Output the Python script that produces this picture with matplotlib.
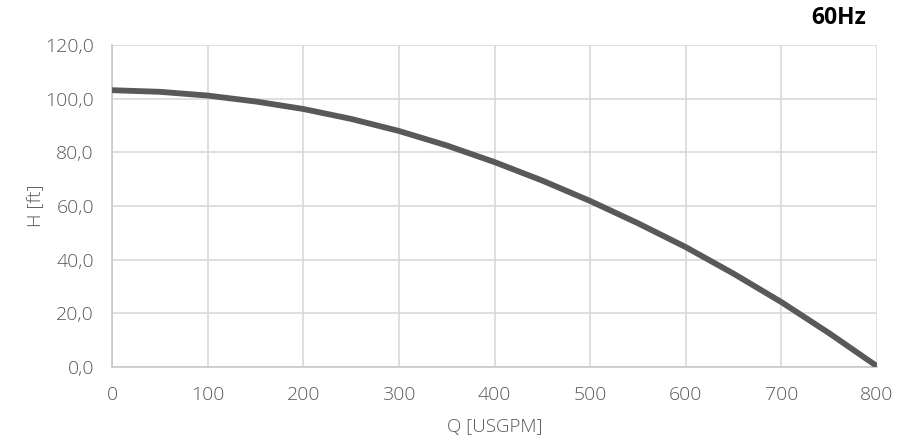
import numpy as np
import matplotlib
matplotlib.use("Agg")
import matplotlib.pyplot as plt
from matplotlib.ticker import FuncFormatter

# pump curve
q_usgpm = [0, 50, 100, 150, 200, 250, 300, 350, 400, 450, 500, 550, 600, 650, 700, 750, 800]
h_ft = [103.2, 102.6, 101.2, 99.0, 96.2, 92.5, 88.0, 82.6, 76.4, 69.5, 61.9, 53.6, 44.7, 34.8, 24.2, 12.6, 0.3]

x_ticks = [0, 100, 200, 300, 400, 500, 600, 700, 800]
y_ticks = [0, 20, 40, 60, 80, 100, 120]

text_col = "#595959"
grid_col = "#d9d9d9"

plt.rcParams['font.family'] = ['Open Sans', 'DejaVu Sans']

fig = plt.figure(figsize=(9.16, 4.47), dpi=100)
ax = fig.add_axes([0.1223, 0.179, 0.8351, 0.720])

ax.plot(q_usgpm, h_ft, color="#595959", lw=4.2, solid_capstyle="butt", zorder=3)

ax.set_xlim(0, 800)
ax.set_ylim(0, 120)
ax.set_xticks(x_ticks)
ax.set_yticks(y_ticks)
ax.yaxis.set_major_formatter(FuncFormatter(lambda v, p: f"{v:.1f}".replace(".", ",")))
ax.grid(True, color=grid_col, lw=1.2)
ax.set_axisbelow(True)
ax.tick_params(length=0, labelsize=14, labelcolor=text_col)
ax.tick_params(axis="x", pad=14)
ax.tick_params(axis="y", pad=13)
for lab in ax.get_xticklabels() + ax.get_yticklabels():
    lab.set_fontweight("light")

for s in ["top", "right"]:
    ax.spines[s].set_visible(False)
for s in ["left", "bottom"]:
    ax.spines[s].set_color("#c8c8c8")
    ax.spines[s].set_linewidth(1.2)

ax.set_xlabel("Q [USGPM]", fontsize=13.5, color=text_col, labelpad=10, fontweight="light")
ax.set_ylabel("H [ft]", fontsize=13.5, color=text_col, labelpad=1, fontweight="light")

fig.text(0.916, 0.960, "60Hz", fontsize=16.5, fontweight="bold", color="black",
         ha="center", va="center")

fig.savefig("out.png", dpi=100)
